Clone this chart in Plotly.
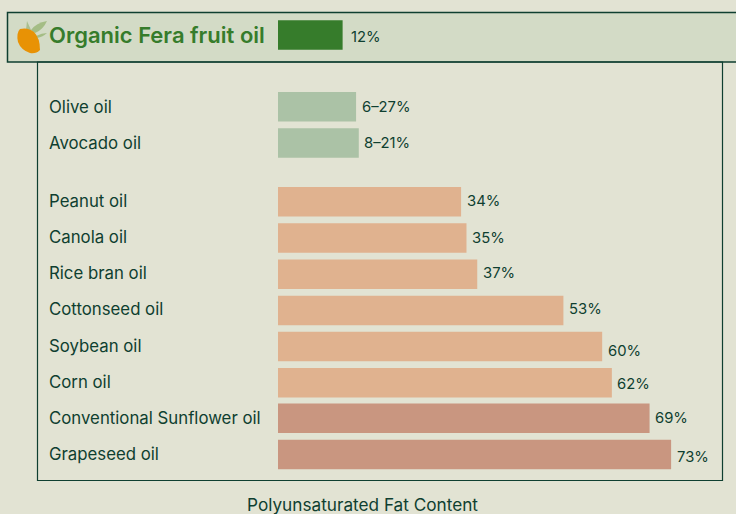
import plotly.graph_objects as go

W, H = 736, 514
BG = "#e2e3d3"
INK = "#0f3f30"
FONT = "Inter, sans-serif"

featured = "Organic Fera fruit oil"
featured_value = 12
featured_label = "12%"

mono_oils = ["Olive oil", "Avocado oil"]
mono_values = [14.5, 15]
mono_labels = ["6–27%", "8–21%"]

peach_oils = ["Peanut oil", "Canola oil", "Rice bran oil", "Cottonseed oil", "Soybean oil", "Corn oil"]
peach_values = [34, 35, 37, 53, 60.2, 62]
peach_labels = ["34%", "35%", "37%", "53%", "60%", "62%"]

rose_oils = ["Conventional Sunflower oil", "Grapeseed oil"]
rose_values = [69, 73]
rose_labels = ["69%", "73%"]

axis_title = "Polyunsaturated Fat Content"

PX_PER_UNIT = 5.385
X0 = 278
ROW = 36.2

def px(x):
    return x / W

def py(y):
    return 1 - y / H

fig = go.Figure()
annotations = []

def add_group(names, vals, labels, color, start_px, gap=4, name_shift=1, val_shift=()):
    ys = [start_px + i * ROW for i in range(len(names))]
    fig.add_trace(go.Bar(
        x=vals, y=ys, orientation="h", width=29.5,
        marker=dict(color=color, line=dict(width=0)),
        hoverinfo="skip",
    ))
    for i, (n, v, lab, y) in enumerate(zip(names, vals, labels, ys)):
        annotations.append(dict(
            x=px(47), xref="paper", y=y, yref="y", text=n, showarrow=False,
            xanchor="left", yanchor="middle", yshift=name_shift,
            font=dict(family=FONT, size=16.8, color=INK),
        ))
        annotations.append(dict(
            x=v, xref="x", y=y, yref="y", text=lab, showarrow=False,
            xanchor="left", yanchor="middle", xshift=gap, yshift=val_shift[i] if val_shift else 0,
            font=dict(family=FONT, size=14.8, color=INK),
        ))

add_group([featured], [featured_value], [featured_label], "#367c2b", 35, gap=6.5, val_shift=[-2])
add_group(mono_oils, mono_values, mono_labels, "#abc2a6", 106.7, gap=3.5, name_shift=0)
add_group(peach_oils, peach_values, peach_labels, "#e0b28f", 201.8, gap=3.5,
          val_shift=[1, 0, 1, 1, -4, -1])
add_group(rose_oils, rose_values, rose_labels, "#c99680", 418.2, gap=3.5, name_shift=0, val_shift=[0, -3])

annotations[0]["font"] = dict(family=FONT, size=22, color="#367c2b", weight=600)
annotations[0]["yshift"] = 0
annotations.append(dict(
    x=px(362.5), xref="paper", y=py(504.5), yref="paper", text=axis_title, showarrow=False,
    xanchor="center", yanchor="middle", borderpad=0, font=dict(family=FONT, size=17.2, color=INK),
))

shapes = [
    dict(type="rect", xref="paper", yref="paper", x0=px(7.5), x1=px(745), y0=py(12.5), y1=py(62),
         fillcolor="#d3dbc6", line=dict(color=INK, width=1.5), layer="below"),
    dict(type="rect", xref="paper", yref="paper", x0=px(37.5), x1=px(722.5), y0=py(62), y1=py(480.5),
         fillcolor="rgba(0,0,0,0)", line=dict(color=INK, width=1.2), layer="below"),
]

def icon(cmds, color):
    out = []
    for c in cmds:
        if isinstance(c, str):
            out.append(c)
        else:
            out.append(f"{px(c[0]):.5f},{py(c[1]):.5f}")
    shapes.append(dict(type="path", xref="paper", yref="paper", path=" ".join(out),
                       fillcolor=color, line=dict(width=0), layer="above"))

icon(["M", (26, 30), "L", (27, 21), "L", (31, 30), "Z"], "#a9bf8f")
icon(["M", (31, 30), "Q", (36, 23), (47, 21), "Q", (43, 30), (35, 33), "Z"], "#a4bd85")
icon(["M", (36, 36), "Q", (42, 33), (47, 33), "Q", (43, 37), (37, 38), "Z"], "#a4bd85")
icon(["M", (20, 29), "Q", (28, 27), (34, 32), "Q", (40, 38), (40, 50),
      "Q", (36, 54), (30, 53), "Q", (21, 50), (18, 42), "Q", (16, 33), (20, 29), "Z"], "#e89205")

fig.update_layout(
    width=W, height=H, autosize=False,
    margin=dict(l=0, r=0, t=0, b=0),
    paper_bgcolor=BG, plot_bgcolor="rgba(0,0,0,0)",
    showlegend=False, barmode="overlay",
    font=dict(family=FONT, color=INK),
    xaxis=dict(range=[-X0 / PX_PER_UNIT, (W - X0) / PX_PER_UNIT], visible=False, fixedrange=True),
    yaxis=dict(range=[H, 0], visible=False, fixedrange=True),
    annotations=annotations, shapes=shapes,
)

fig.write_html("out.html", post_script="document.body.style.margin='0';", config={"displayModeBar": False})
